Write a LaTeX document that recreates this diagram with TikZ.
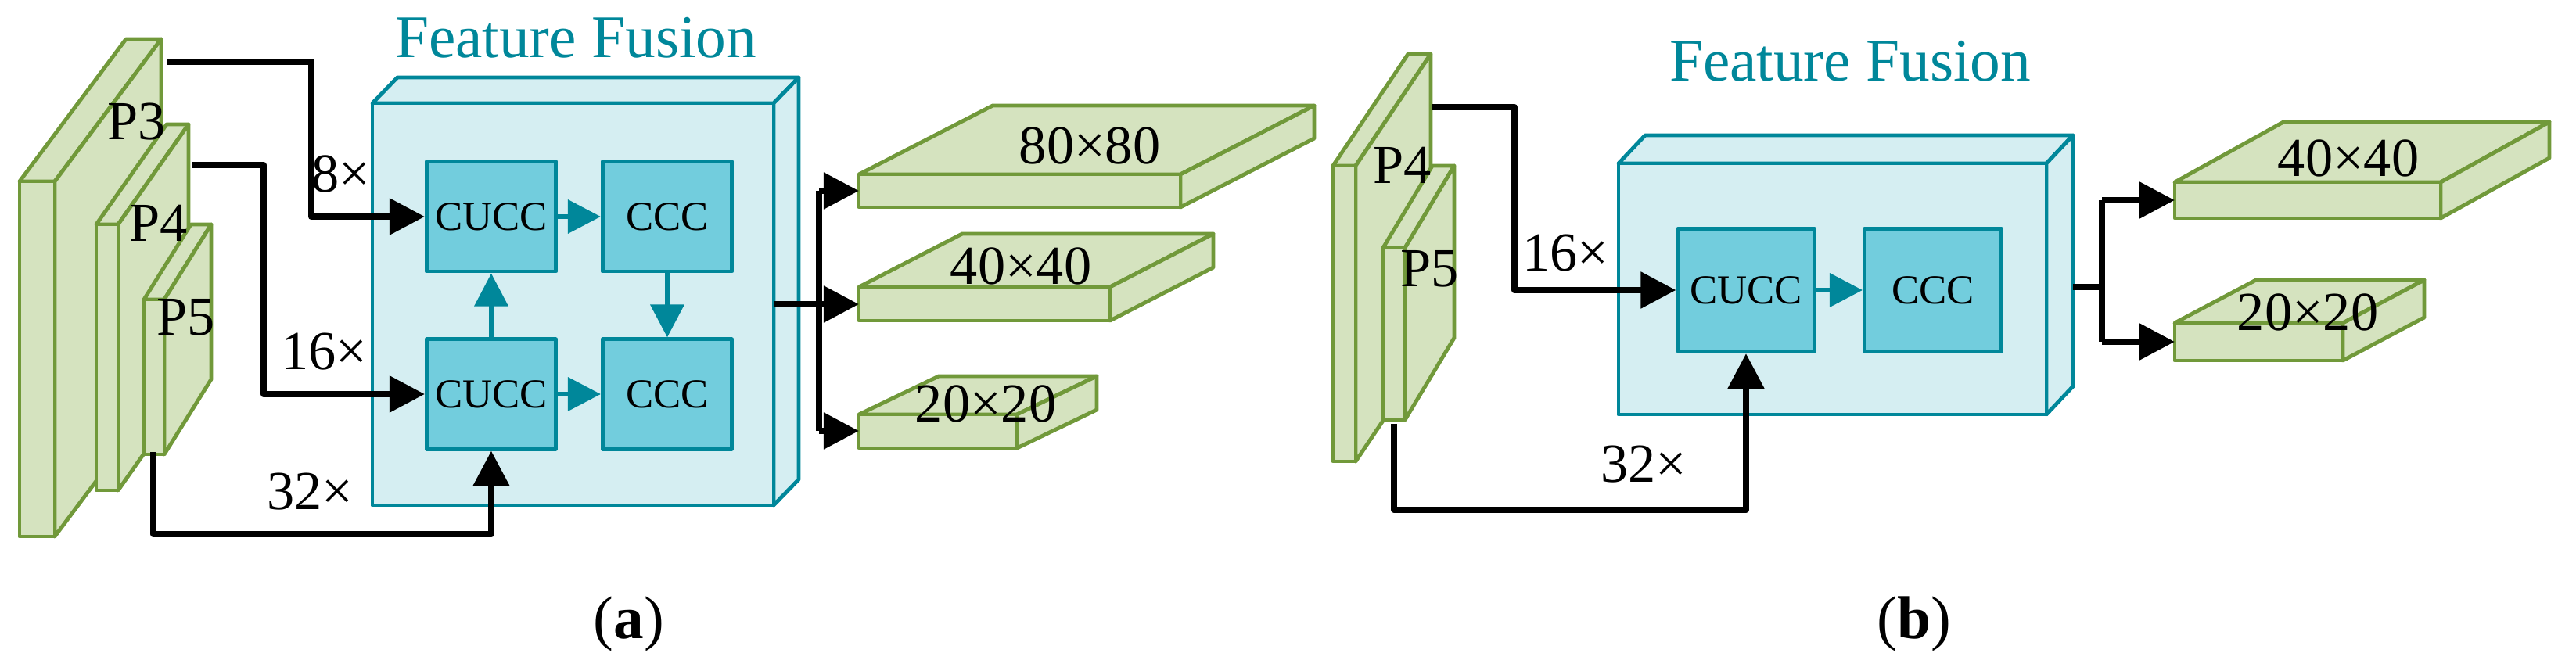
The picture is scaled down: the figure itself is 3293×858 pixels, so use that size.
\documentclass[tikz,border=0pt]{standalone}
\usepackage{fontspec}
\setmainfont{Liberation Serif}
\newfontfamily\ser{Liberation Serif}
\usetikzlibrary{arrows.meta}
\definecolor{gfill}{HTML}{D5E3BF}
\definecolor{gline}{HTML}{71993A}
\definecolor{tfill}{HTML}{D5EEF2}
\definecolor{tline}{HTML}{00879A}
\definecolor{ifill}{HTML}{72CDDD}
\newcommand\cub[7]{%
 \filldraw[#7] (#1,#2) -- ({#1+#5},{#2+#6}) -- ({#1+#3+#5},{#2+#6}) -- ({#1+#3},#2) -- cycle;
 \filldraw[#7] ({#1+#3},#2) -- ({#1+#3+#5},{#2+#6}) -- ({#1+#3+#5},{#2+#4+#6}) -- ({#1+#3},{#2+#4}) -- cycle;
 \filldraw[#7] (#1,#2) rectangle ({#1+#3},{#2+#4});}
\begin{document}
\begin{tikzpicture}[x=0.01cm,y=-0.01cm,line join=round,
 green/.style={fill=gfill,draw=gline,line width=1.4pt},
 teal/.style={fill=tfill,draw=tline,line width=1.4pt},
 inner/.style={draw=tline,fill=ifill,line width=1.4pt,minimum width=1.65cm,minimum height=1.4cm,inner sep=0pt,font=\ser\fontsize{15}{18}\selectfont},
 blk/.style={line width=2.4pt,-{Triangle[length=0.45cm,width=0.45cm]}},
 tarr/.style={draw=tline,line width=1.9pt,-{Triangle[length=0.42cm,width=0.42cm]}},
 lbl/.style={font=\ser\fontsize{20}{24}\selectfont,inner sep=0pt},
 captxt/.style={font=\ser\fontsize{22}{26}\selectfont,inner sep=0pt},
 ttl/.style={font=\ser\fontsize{22}{26}\selectfont,text=tline,inner sep=0pt}]
\useasboundingbox (0,0) rectangle (3293,858);
% ---------- (a)
\cub{25}{232}{45}{454}{136}{-182}{green}
\cub{123}{287}{28}{340}{90}{-128}{green}
\cub{184}{383}{26}{198}{60}{-96}{green}
\node[lbl] at (175,156) {P3};
\node[lbl] at (203,285) {P4};
\node[lbl] at (238,406) {P5};
\node[ttl] (fa) at (736,48) {Feature Fusion};
\cub{476}{132}{513}{514}{32}{-33}{teal}
\node[inner] (cu1) at (628,277) {CUCC};
\node[inner] (cc1) at (853,277) {CCC};
\node[inner] (cu2) at (628,504) {CUCC};
\node[inner] (cc2) at (853,504) {CCC};
\draw[tarr] (cu1.east) -- (cc1.west);
\draw[tarr] (cu2.east) -- (cc2.west);
\draw[tarr] (cc1.south) -- (cc2.north);
\draw[tarr] (cu2.north) -- (cu1.south);
\coordinate (p3o) at (214,79);
\coordinate (p4o) at (246,211);
\coordinate (p5o) at (196,578);
\draw[blk] (p3o) -- (398,79) -- (398,277) -- (cu1.west);
\draw[blk] (p4o) -- (337,211) -- (337,504) -- (cu2.west);
\draw[blk] (p5o) -- (196,683) -- (628,683) -- (cu2.south);
\node[lbl] at (436,222) {8×};
\node[lbl] at (414,450) {16×};
\node[lbl] at (396,629) {32×};
\cub{1098}{223}{411}{42}{171}{-88}{green}
\cub{1098}{367}{321}{43}{132}{-68}{green}
\cub{1098}{530}{202}{43}{102}{-49}{green}
\node[lbl] (o1) at (1393,186) {80×80};
\node[lbl] (o2) at (1305,340) {40×40};
\node[lbl] (o3) at (1260,516) {20×20};
\coordinate (fao) at (989,389);
\coordinate (t1) at (1098,244);
\coordinate (t2) at (1098,389);
\coordinate (t3) at (1098,551);
\draw[line width=2.4pt] (fao) -- (1047,389);
\draw[line width=2.4pt] (1047,244) -- (1047,551);
\draw[blk] (1047,244) -- (t1);
\draw[blk] (1047,389) -- (t2);
\draw[blk] (1047,551) -- (t3);
\node[captxt] at (804,798) {(\textbf{a})};
% ---------- (b)
\cub{1704}{212}{29}{378}{96}{-143}{green}
\cub{1768}{317}{28}{220}{63}{-105}{green}
\node[lbl] at (1793,211) {P4};
\node[lbl] at (1828,344) {P5};
\node[ttl] (fb) at (2365,78) {Feature Fusion};
\cub{2069}{209}{547}{321}{34}{-36}{teal}
\node[inner,minimum width=1.74cm,minimum height=1.57cm] (cub) at (2232,371) {CUCC};
\node[inner,minimum width=1.75cm,minimum height=1.57cm] (ccb) at (2471,371) {CCC};
\draw[tarr] (cub.east) -- (ccb.west);
\coordinate (q4o) at (1831,137);
\coordinate (q5o) at (1782,542);
\draw[blk] (q4o) -- (1936,137) -- (1936,371) -- (cub.west);
\draw[blk] (q5o) -- (1782,652) -- (2232,652) -- (cub.south);
\node[lbl] at (2001,324) {16×};
\node[lbl] at (2101,594) {32×};
\cub{2780}{233}{340}{46}{139}{-77}{green}
\cub{2780}{413}{215}{48}{104}{-55}{green}
\node[lbl] at (3002,202) {40×40};
\node[lbl] at (2950,399) {20×20};
\coordinate (fbo) at (2650,367);
\coordinate (u1) at (2780,256);
\coordinate (u2) at (2780,437);
\draw[line width=2.4pt] (fbo) -- (2687,367);
\draw[line width=2.4pt] (2687,256) -- (2687,437);
\draw[blk] (2687,256) -- (u1);
\draw[blk] (2687,437) -- (u2);
\node[captxt] at (2447,798) {(\textbf{b})};
\end{tikzpicture}
\end{document}
